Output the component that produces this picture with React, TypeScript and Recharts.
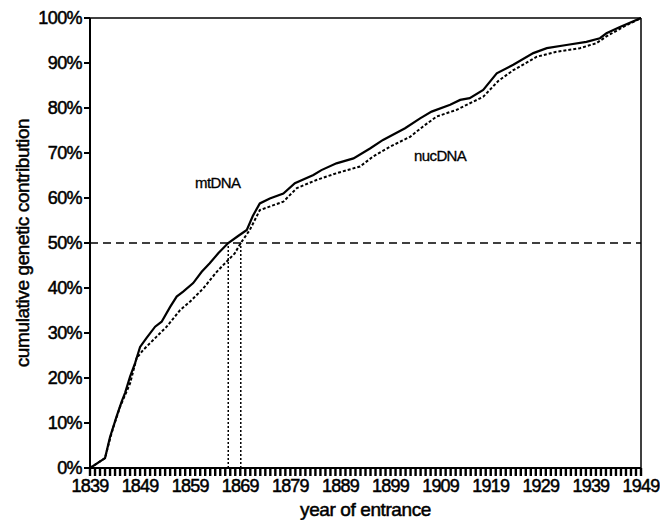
import {
  LineChart, Line, XAxis, YAxis, ReferenceLine, ReferenceDot, Label,
} from 'recharts'

// year of entrance vs cumulative genetic contribution (%)
const mtYears = [
  1839, 1842, 1843, 1844.3, 1845.3, 1846, 1847, 1848, 1849, 1850.3, 1852, 1853.3,
  1855, 1856.3, 1857.6, 1859.6, 1861.3, 1862.9, 1864.6, 1866.6, 1868.5, 1870.3,
  1871.5, 1872.9, 1874.9, 1877.6, 1879.9, 1883.6, 1885.2, 1888.2, 1891.6, 1894.9,
  1897.5, 1901.9, 1904.9, 1907.2, 1910.9, 1912.9, 1914.8, 1917.5, 1920.2, 1923.5,
  1927.5, 1930.2, 1934.1, 1938.1, 1940.8, 1942.1, 1944.8, 1949,
]
const mtValues = [
  0, 2.2, 6.9, 11.4, 14.7, 16.7, 20.3, 23.3, 26.9, 28.9, 31.4, 32.5,
  35.8, 38.1, 39.2, 41.1, 43.6, 45.5, 47.7, 50, 51.5, 52.9,
  56, 58.8, 59.9, 61, 63.3, 65.1, 66.2, 67.7, 68.8, 71,
  72.9, 75.5, 77.7, 79.2, 80.7, 81.8, 82.2, 84, 87.7, 89.6,
  92.2, 93.3, 94, 94.7, 95.5, 96.6, 98, 100,
]

const nucYears = [
  1839, 1842, 1843, 1843.7, 1845, 1847, 1848.3, 1849.6, 1852.3, 1854.3, 1857, 1859,
  1861.6, 1864.3, 1866.3, 1867.9, 1869.1, 1870.9, 1872.9, 1877.6, 1880.3, 1884.2,
  1888.2, 1892.9, 1895.5, 1898.9, 1902.9, 1905.5, 1908.2, 1912.2, 1917.5, 1920.5,
  1923.5, 1928.2, 1932.1, 1936.8, 1940.1, 1942.1, 1945.4, 1949,
]
const nucValues = [
  0, 2.2, 6.5, 9.2, 13.6, 18.8, 24.4, 26.2, 29.2, 31.4, 35.1, 37,
  39.9, 43.6, 45.9, 47.7, 50, 52.9, 57.3, 59.2, 62.2, 64,
  65.5, 67, 69.2, 71.4, 73.6, 75.9, 78.1, 79.6, 82.5, 86,
  88.4, 91.4, 92.5, 93.3, 94.4, 95.9, 98, 100,
]

const xLabels = [1839, 1849, 1859, 1869, 1879, 1889, 1899, 1909, 1919, 1929, 1939, 1949]
const yTicks = [0, 10, 20, 30, 40, 50, 60, 70, 80, 90, 100]

// year at which each curve reaches 50%
const mtHalf = 1866.6
const nucHalf = 1869.1

const mtData = mtYears.map((year, i) => ({ year, v: mtValues[i] }))
const nucData = nucYears.map((year, i) => ({ year, v: nucValues[i] }))

// one tick mark per year, labels only on the decades
const yearTicks: number[] = []
for (let y = xLabels[0]; y <= xLabels[xLabels.length - 1]; y++) yearTicks.push(y)

const FONT = '"Liberation Sans", Arial, Helvetica, sans-serif'
const textInk = { stroke: '#000', strokeWidth: 0.5 }

function YTitle({ viewBox }: any) {
  const x = viewBox.x + 29
  const y = viewBox.y + viewBox.height / 2
  return (
    <text
      x={x} y={y}
      transform={`rotate(-90, ${x}, ${y})`}
      textAnchor="middle"
      fontSize={19}
      fontFamily={FONT}
      letterSpacing={-0.4}
      fill="#000"
      {...textInk}
    >
      cumulative genetic contribution
    </text>
  )
}

export default function App() {
  return (
    <div style={{ position: 'absolute', left: 0, top: 0, background: '#fff' }}>
      <LineChart width={660} height={520} margin={{ top: 18, right: 19, bottom: 0, left: 0 }}>
        <XAxis
          type="number"
          dataKey="year"
          domain={[1839, 1949]}
          ticks={yearTicks}
          interval={0}
          tickFormatter={(y: number) => (xLabels.includes(y) ? String(y) : '')}
          tick={{ fontSize: 18, fill: '#000', fontFamily: FONT, letterSpacing: -0.8, ...textInk }}
          tickSize={8}
          tickMargin={3}
          height={52}
          axisLine={{ stroke: '#000', strokeWidth: 2 }}
          tickLine={{ stroke: '#000', strokeWidth: 2.4 }}
          allowDataOverflow
        >
          <Label
            value="year of entrance"
            position="insideBottom"
            offset={4}
            fontSize={19}
            fontFamily={FONT}
            letterSpacing={-0.4}
            fill="#000"
            {...textInk}
          />
        </XAxis>
        <YAxis
          type="number"
          domain={[0, 100]}
          ticks={yTicks}
          interval={0}
          tickFormatter={(v: number) => `${v}%`}
          tick={{ fontSize: 18, fill: '#000', fontFamily: FONT, letterSpacing: -0.6, ...textInk }}
          tickSize={6}
          tickMargin={2}
          width={90}
          axisLine={{ stroke: '#000', strokeWidth: 2 }}
          tickLine={{ stroke: '#000', strokeWidth: 2 }}
          label={<YTitle />}
        />

        {/* frame */}
        <ReferenceLine y={100} stroke="#000" strokeWidth={1.5} />
        <ReferenceLine x={1949} stroke="#000" strokeWidth={1.5} />

        {/* 50% marker */}
        <ReferenceLine y={50} stroke="#000" strokeWidth={1.5} strokeDasharray="8 5" />
        <ReferenceLine
          segment={[{ x: mtHalf, y: 0 }, { x: mtHalf, y: 50 }]}
          stroke="#000" strokeWidth={1.5} strokeDasharray="2 2"
        />
        <ReferenceLine
          segment={[{ x: nucHalf, y: 0 }, { x: nucHalf, y: 50 }]}
          stroke="#000" strokeWidth={1.5} strokeDasharray="2 2"
        />

        <Line
          data={mtData}
          dataKey="v"
          type="linear"
          stroke="#000"
          strokeWidth={2.2}
          dot={false}
          isAnimationActive={false}
        />
        <Line
          data={nucData}
          dataKey="v"
          type="linear"
          stroke="#000"
          strokeWidth={2}
          strokeDasharray="3 2"
          dot={false}
          isAnimationActive={false}
        />

        <ReferenceDot x={1864.5} y={63.3} r={0} fill="none" stroke="none"
          label={{ value: 'mtDNA', position: 'center', fontSize: 15, fontFamily: FONT, fill: '#000', letterSpacing: -0.6, stroke: '#000', strokeWidth: 0.3 }} />
        <ReferenceDot x={1908.9} y={69.5} r={0} fill="none" stroke="none"
          label={{ value: 'nucDNA', position: 'center', fontSize: 15, fontFamily: FONT, fill: '#000', letterSpacing: -0.6, stroke: '#000', strokeWidth: 0.3 }} />
      </LineChart>
    </div>
  )
}
